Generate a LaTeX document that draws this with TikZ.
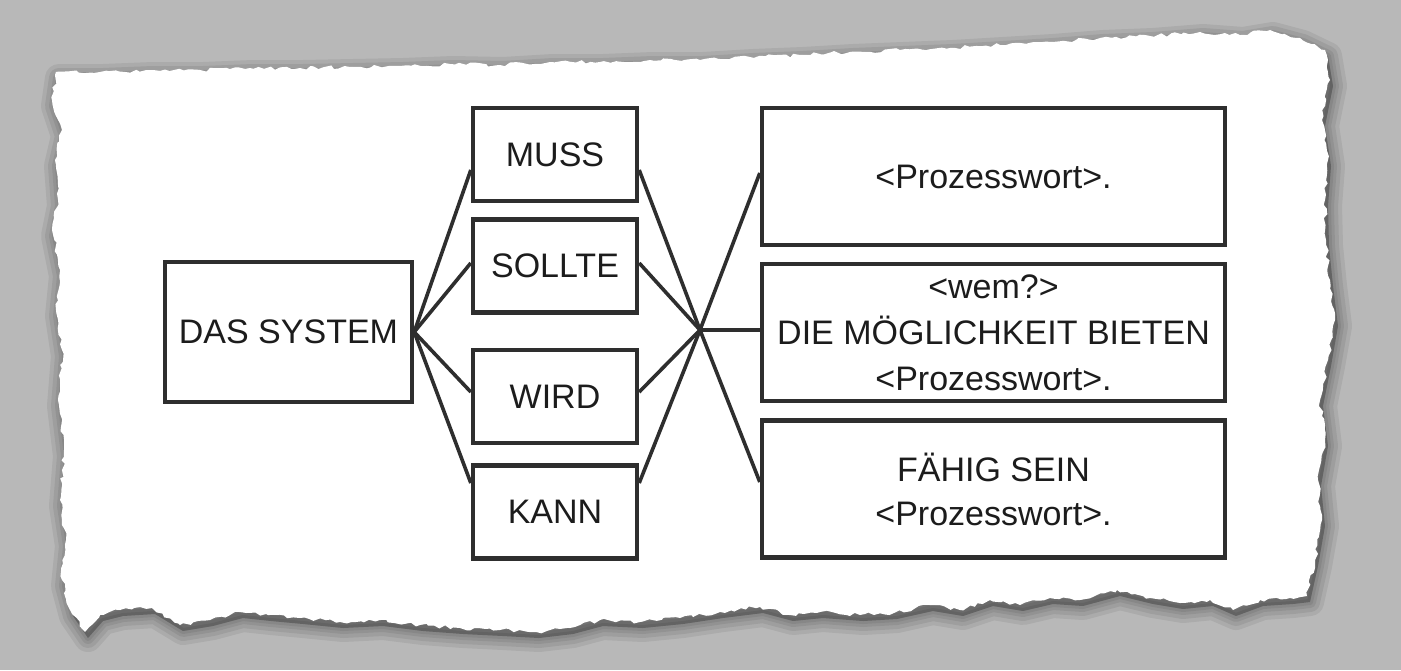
\documentclass[tikz,border=0pt]{standalone}
\usepackage{fontspec}
\setmainfont{Liberation Sans}
\usetikzlibrary{decorations.pathmorphing}
\definecolor{scangray}{HTML}{B8B8B8}
\definecolor{inkdark}{HTML}{2E2E2E}
\definecolor{inktext}{HTML}{1C1C1C}
% torn sheet outline, in pixels of the scan
\def\paperedge{(85,632) -- (100,615) -- (120,610) -- (152,608) -- (180,625) -- (210,620) -- (240,612)
  -- (268,615) -- (300,618) -- (340,622) -- (380,620) -- (420,625) -- (460,628) -- (500,630)
  -- (536,632) -- (570,628) -- (600,620) -- (640,622) -- (680,618) -- (720,612) -- (760,607)
  -- (790,615) -- (820,612) -- (860,615) -- (894,613) -- (930,605) -- (960,610) -- (990,600)
  -- (1020,605) -- (1050,598) -- (1080,600) -- (1117,590) -- (1150,598) -- (1180,603) -- (1210,600)
  -- (1233,610) -- (1260,600) -- (1290,598) -- (1307,596) -- (1315,560) -- (1322,520) -- (1318,480)
  -- (1325,440) -- (1320,400) -- (1328,360) -- (1335,320) -- (1330,280) -- (1326,240) -- (1325,200)
  -- (1328,160) -- (1322,120) -- (1330,80) -- (1325,50) -- (1300,38) -- (1270,30) -- (1240,35)
  -- (1200,32) -- (1150,36) -- (1100,38) -- (1050,42) -- (1000,45) -- (950,48) -- (900,50)
  -- (850,52) -- (800,55) -- (750,57) -- (700,60) -- (650,60) -- (600,62) -- (550,62) -- (500,65)
  -- (450,64) -- (400,66) -- (350,67) -- (300,68) -- (250,68) -- (200,70) -- (150,70) -- (100,72)
  -- (56,72) -- (52,100) -- (62,130) -- (55,160) -- (58,200) -- (52,230) -- (60,270) -- (56,310)
  -- (62,350) -- (58,400) -- (64,450) -- (60,500) -- (66,540) -- (62,580) -- (70,610) -- cycle}

\begin{document}
\begin{tikzpicture}[x=0.5pt,y=-0.5pt,
    every node/.style={font=\fontsize{17pt}{23pt}\selectfont,text=inktext},
    box/.style={draw=inkdark,line width=2.2pt,fill=white,inner sep=0pt,align=center},
    midbox/.style={box,minimum width=82pt,minimum height=46.5pt},
    rightbox/.style={box,minimum width=231.5pt,minimum height=68.5pt},
    wire/.style={draw=inkdark,line width=1.8pt}]
        \useasboundingbox (0,0) rectangle (1401,670);
        \fill[scangray] (0,0) rectangle (1401,670);
        % soft shadow under the sheet
        \foreach \w in {14,10,6,3}
          \filldraw[black,opacity=.07,line width=\w pt,line join=round,shift={(3,6)}] \paperedge;
        \pgfmathsetseed{11}
        \fill[white,decorate,decoration={random steps,segment length=2.5pt,amplitude=1pt}] \paperedge;

        \node[box,minimum width=123.5pt,minimum height=70pt] (sys) at (288.5,332) {DAS SYSTEM};
        \node[midbox] (muss) at (555,154.5) {MUSS};
        \node[midbox] (sollte) at (555,266) {SOLLTE};
        \node[midbox] (wird) at (555,396.5) {WIRD};
        \node[midbox] (kann) at (555,512) {KANN};
        \node[rightbox] (proz) at (993.5,176.5) {<Prozesswort>.};
        \node[rightbox] (bieten) at (993.5,332.5) {<wem?>\\DIE MÖGLICHKEIT BIETEN\\<Prozesswort>.};
        \node[rightbox,font=\fontsize{17pt}{22pt}\selectfont] (faehig) at (993.5,489) {FÄHIG SEIN\\<Prozesswort>.};
        \coordinate (hub) at (700,330);

        \foreach \b/\s in {muss/-7.75,sollte/1.5,wird/2.25,kann/14.5}
          \draw[wire] (sys.east) -- ([yshift=\s pt]\b.west) ([yshift=\s pt]\b.east) -- (hub);
        \foreach \b/\s in {proz/1.75,bieten/1.25,faehig/3.5}
          \draw[wire] (hub) -- ([yshift=\s pt]\b.west);
      \end{tikzpicture}
\end{document}
